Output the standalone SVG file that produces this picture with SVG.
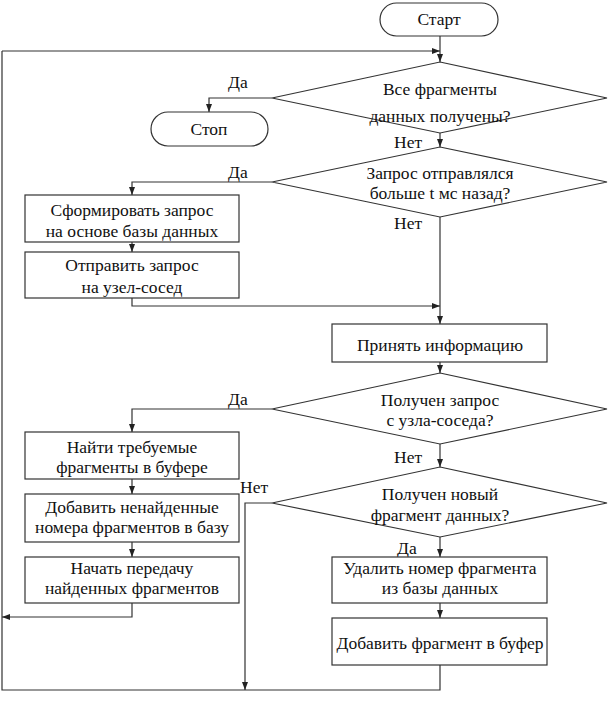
<svg xmlns="http://www.w3.org/2000/svg" width="610" height="704" viewBox="0 0 610 704" font-family="Liberation Serif, Times New Roman, serif">
<defs>
<marker id="ar" viewBox="0 0 8 6" refX="8" refY="3" markerWidth="8" markerHeight="6" markerUnits="userSpaceOnUse" orient="auto">
<path d="M0,0 L8,3 L0,6 Z" fill="#222"/>
</marker>
<style>
.s{fill:#fff;stroke:#333;stroke-width:1.2}
.c{fill:none;stroke:#333;stroke-width:1.2}
text{font-family:"Liberation Serif","Times New Roman",serif;font-size:17.5px;fill:#111}
.t{text-anchor:middle}
</style>
</defs>
<rect width="610" height="704" fill="#fff"/>
<g id="connectors">
<path class="c" d="M440,36 V62" marker-end="url(#ar)"/>
<path class="c" d="M2,51 H440" marker-end="url(#ar)"/>
<path class="c" d="M272,98 H209 V112" marker-end="url(#ar)"/>
<path class="c" d="M440,133 V147" marker-end="url(#ar)"/>
<path class="c" d="M272,182 H132 V195" marker-end="url(#ar)"/>
<path class="c" d="M132,242 V252" marker-end="url(#ar)"/>
<path class="c" d="M132,298 V306 H440" marker-end="url(#ar)"/>
<path class="c" d="M440,217 V324" marker-end="url(#ar)"/>
<path class="c" d="M440,362 V373" marker-end="url(#ar)"/>
<path class="c" d="M272,409 H132 V432" marker-end="url(#ar)"/>
<path class="c" d="M132,479 V494" marker-end="url(#ar)"/>
<path class="c" d="M132,542 V557" marker-end="url(#ar)"/>
<path class="c" d="M132,603 V617 H2" marker-end="url(#ar)"/>
<path class="c" d="M440,444 V467" marker-end="url(#ar)"/>
<path class="c" d="M272,503 H245 V690" marker-end="url(#ar)"/>
<path class="c" d="M440,537 V557" marker-end="url(#ar)"/>
<path class="c" d="M440,603 V618" marker-end="url(#ar)"/>
<path class="c" d="M440,665 V690 H2 V51"/>
<text x="228" y="88">Да</text>
<text x="394" y="148">Нет</text>
<text x="228" y="178">Да</text>
<text x="394" y="229">Нет</text>
<text x="228" y="405">Да</text>
<text x="394" y="463">Нет</text>
<text x="240" y="493">Нет</text>
<text x="397" y="554">Да</text>
</g>
<g id="start">
<rect class="s" x="380" y="3" width="118" height="33" rx="16.5"/>
<text class="t" x="439" y="25">Старт</text>
</g>
<g id="d1">
<polygon class="s" points="440,62 607,98 440,133 272,98"/>
<text class="t" x="440" y="95">Все фрагменты</text>
<text class="t" x="440" y="122">данных получены?</text>
</g>
<g id="stop">
<rect class="s" x="151" y="112" width="117" height="34" rx="17"/>
<text class="t" x="209" y="135">Стоп</text>
</g>
<g id="d2">
<polygon class="s" points="440,147 607,182 440,217 272,182"/>
<text class="t" x="440" y="179">Запрос отправлялся</text>
<text class="t" x="440" y="199">больше t мс назад?</text>
</g>
<g id="b1">
<rect class="s" x="25" y="195" width="214" height="47"/>
<text class="t" x="132" y="216">Сформировать запрос</text>
<text class="t" x="132" y="237">на основе базы данных</text>
</g>
<g id="b2">
<rect class="s" x="25" y="252" width="214" height="46"/>
<text class="t" x="132" y="271">Отправить запрос</text>
<text class="t" x="132" y="293">на узел-сосед</text>
</g>
<g id="b3">
<rect class="s" x="332" y="324" width="215" height="38"/>
<text class="t" x="440" y="351">Принять информацию</text>
</g>
<g id="d3">
<polygon class="s" points="440,373 607,409 440,444 272,409"/>
<text class="t" x="440" y="406">Получен запрос</text>
<text class="t" x="440" y="426">с узла-соседа?</text>
</g>
<g id="b4">
<rect class="s" x="25" y="432" width="214" height="47"/>
<text class="t" x="132" y="453">Найти требуемые</text>
<text class="t" x="132" y="473">фрагменты в буфере</text>
</g>
<g id="b5">
<rect class="s" x="25" y="494" width="214" height="48"/>
<text class="t" x="132" y="513">Добавить ненайденные</text>
<text class="t" x="132" y="533">номера фрагментов в базу</text>
</g>
<g id="b6">
<rect class="s" x="25" y="557" width="214" height="46"/>
<text class="t" x="132" y="574">Начать передачу</text>
<text class="t" x="132" y="594">найденных фрагментов</text>
</g>
<g id="d4">
<polygon class="s" points="440,467 607,503 440,537 272,503"/>
<text class="t" x="440" y="500">Получен новый</text>
<text class="t" x="440" y="521">фрагмент данных?</text>
</g>
<g id="b7">
<rect class="s" x="332" y="557" width="215" height="46"/>
<text class="t" x="440" y="574">Удалить номер фрагмента</text>
<text class="t" x="440" y="594">из базы данных</text>
</g>
<g id="b8">
<rect class="s" x="332" y="618" width="215" height="47"/>
<text class="t" x="440" y="649">Добавить фрагмент в буфер</text>
</g>
</svg>
